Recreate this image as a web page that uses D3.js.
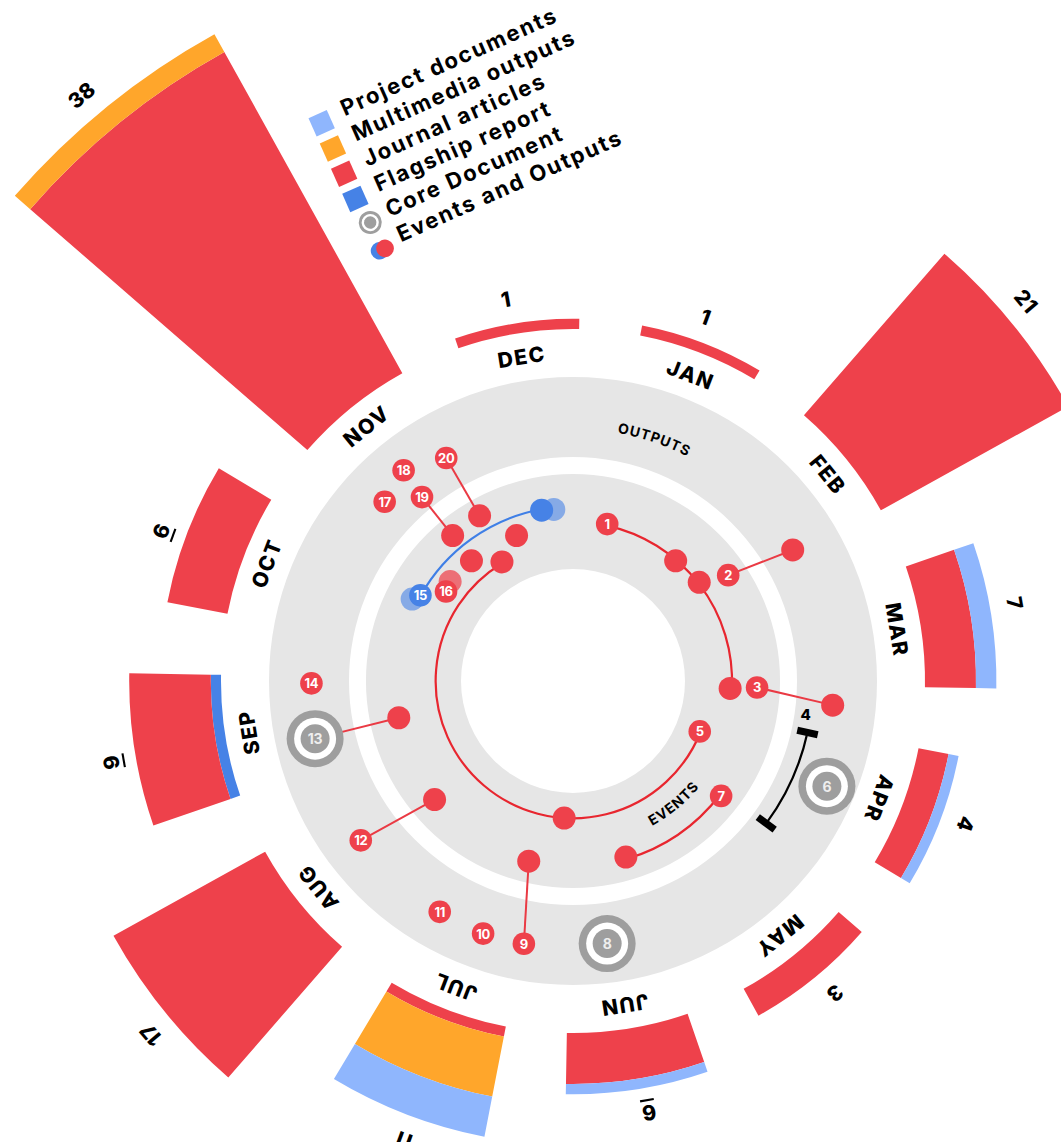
<!DOCTYPE html>
<html><head><meta charset="utf-8">
<script src="https://cdn.jsdelivr.net/npm/d3@7"></script>
<style>
html,body{margin:0;padding:0;background:#fff;}
svg{display:block;font-family:Inter,"Open Sans",sans-serif;}
</style></head><body>
<svg id="chart" width="1061" height="1142"></svg>
<script>
// ---------- DATA ----------
const months = ["JAN","FEB","MAR","APR","MAY","JUN","JUL","AUG","SEP","OCT","NOV","DEC"];
const seriesNames = ["Flagship report","Journal articles","Multimedia outputs","Project documents"]; // inner -> outer
const flagshipReport    = [0,0,0,0,0,0,0,0,1,0,0,0];
const journalArticles   = [1,21,5,3,3,5,1,17,8,6,36,1];
const multimediaOutputs = [0,0,0,0,0,0,6,0,0,0,2,0];
const projectDocuments  = [0,0,2,1,0,1,4,0,0,0,0,0];
const legendLabels = ["Project documents","Multimedia outputs","Journal articles","Flagship report","Core Document","Events and Outputs"];

// numbered events / outputs: month position (0 = start of JAN), radial track (0..10), kind
const markIds   = [1,2,3,5,6,7,8,9,10,11,12,13,14,15,16,17,18,19,20];
const markMonth = [0.21,1.657,2.867,3.523,3.55,4.06,5.553,6.153,6.453,6.8,7.57,8.38,8.783,9.777,9.973,10.253,10.507,10.487,10.813];
const markTrack = [2.53,3.95,3.76,1.27,8.48,3.93,7.96,8.09,8.13,8.05,7.99,7.93,7.79,3.28,2.26,7.71,8.25,6.56,7.53];
const markKind  = ["red","red","red","red","core","red","core","red","red","red","red","core","red","blue","red","red","red","red","red"];

// unnumbered dots
const dotMonth = [1.15,1.533,2.89,1.773,2.977,5.923,5.243,6.26,7.447,8.403,10.773,10.46,10.1,10.48,10.817,11.093,11.587,11.453,9.7];
const dotTrack = [2.40,2.51,2.36,7.49,7.75,1.32,3.74,3.83,3.66,3.44,1.39,2.36,2.40,4.0,4.05,2.29,3.16,3.21,3.57];
const dotKind  = ["red","red","red","red","red","red","red","red","red","red","red","red","redFaded","red","red","red","blueFaded","blue","blueFaded"];

// duration arcs
const arcFrom  = [0.21,3.523,9.777,4.06];
const arcTo    = [2.89,10.773,11.453,5.243];
const arcTrack = [2.45,1.32,3.26,3.85];
const arcKind  = ["red","red","blue","red"];

// links: numbered mark id -> dot index
const linkFrom = [2,3,9,12,13,19,20];
const linkTo   = [3,4,7,8,9,13,14];

// bracket item 4
const bracketLabel = "4";
const bracketFrom = 3.213, bracketTo = 4.013, bracketTrack = 6.67;
const bracketLabelMonth = 3.077, bracketLabelTrack = 6.41;

// ---------- CHART ----------
const deg = Math.PI/180;
const cx = 573, cy = 681;
const svg = d3.select("#chart");
const g = svg.append("g").attr("transform",`translate(${cx},${cy})`);

const RED="#ee414b", ORANGE="#ffa62b", LBLUE="#8fb6fd", BLUE="#4682e6", GREY="#9e9e9e", BAND="#e6e6e6";

const bandAngle = d3.scaleBand().domain(months).range([6*deg,366*deg]).paddingInner(1/3).paddingOuter(1/6);
const timeAngle = d3.scaleLinear().domain([0,12]).range([6*deg,366*deg]);
const radius = d3.scaleLinear().domain([0,38]).range([352,739.6]);
const track = d3.scaleLinear().domain([0,10]).range([112,304]);
const X = (r,a)=> r*Math.sin(a), Y=(r,a)=> -r*Math.cos(a);
const arcD = (r,a0,a1)=>{
  const large = (a1-a0)>Math.PI?1:0;
  return `M${X(r,a0)},${Y(r,a0)}A${r},${r} 0 ${large} 1 ${X(r,a1)},${Y(r,a1)}`;
};

// grey bands
const ring = d3.arc();
g.append("path").attr("fill",BAND).attr("d",ring({innerRadius:track(0),outerRadius:track(4.95),startAngle:0,endAngle:2*Math.PI}));
g.append("path").attr("fill",BAND).attr("d",ring({innerRadius:track(5.83),outerRadius:track(10),startAngle:0,endAngle:2*Math.PI}));

// stacked bars
const table = months.map((m,i)=>({month:m,
  "Flagship report":flagshipReport[i],"Journal articles":journalArticles[i],
  "Multimedia outputs":multimediaOutputs[i],"Project documents":projectDocuments[i]}));
const stacked = d3.stack().keys(seriesNames)(table);
const color = d3.scaleOrdinal().domain(seriesNames).range([BLUE,RED,ORANGE,LBLUE]);
const barArc = d3.arc();
stacked.forEach(layer=>{
  g.append("g").selectAll("path").data(layer.filter(d=>d[1]>d[0])).join("path")
   .attr("fill",color(layer.key))
   .attr("d",d=>barArc({innerRadius:radius(d[0]),outerRadius:radius(d[1]),
      startAngle:bandAngle(d.data.month),endAngle:bandAngle(d.data.month)+bandAngle.bandwidth()}));
});
const totals = table.map(d=>d3.sum(seriesNames,k=>d[k]));
const midDeg = m => (bandAngle(m)+bandAngle.bandwidth()/2)/deg;

// month labels
g.append("g").selectAll("text").data(months).join("text")
  .attr("transform",m=>`rotate(${midDeg(m)}) translate(0,-328)`)
  .attr("text-anchor","middle").attr("dominant-baseline","central")
  .attr("font-size",21).attr("font-weight",800).attr("letter-spacing",1.5).attr("fill","#000")
  .text(m=>m);

// value labels
g.append("g").selectAll("text").data(months).join("text")
  .attr("transform",(m,i)=>`rotate(${midDeg(m)-1}) translate(0,${-(radius(totals[i])+25)})`)
  .attr("text-anchor","middle").attr("dominant-baseline","central")
  .attr("font-size",21).attr("font-weight",800).attr("fill","#000")
  .style("text-decoration",(m,i)=> (totals[i]===6||totals[i]===9)?"underline":"none")
  .text((m,i)=>totals[i]);

// ring labels (curved)
const defs = svg.append("defs");
defs.append("path").attr("id","outPath").attr("d",arcD(252,(18.6-30)*deg,(18.6+30)*deg)).attr("transform",`translate(${cx},${cy})`);
defs.append("path").attr("id","evPath").attr("d",(()=>{const r=165,a0=170.6*deg,a1=110.6*deg;
  return `M${cx+X(r,a0)},${cy+Y(r,a0)}A${r},${r} 0 0 0 ${cx+X(r,a1)},${cy+Y(r,a1)}`;})());
svg.append("text").attr("font-size",14).attr("font-weight",700).attr("letter-spacing",0.9)
  .append("textPath").attr("href","#outPath").attr("startOffset","50%").attr("text-anchor","middle").text("OUTPUTS");
svg.append("text").attr("font-size",14).attr("font-weight",700).attr("letter-spacing",0.9)
  .append("textPath").attr("href","#evPath").attr("startOffset","50%").attr("text-anchor","middle").text("EVENTS");

// arcs
const arcColor = k => k==="blue"?"#3f7fe6":"#e8262f";
g.append("g").selectAll("path").data(arcFrom).join("path")
  .attr("fill","none").attr("stroke-width",2.2).attr("stroke",(d,i)=>arcColor(arcKind[i]))
  .attr("d",(d,i)=>arcD(track(arcTrack[i]),timeAngle(arcFrom[i]),timeAngle(arcTo[i])));

// links
const markPos = id => {const i=markIds.indexOf(id); return [X(track(markTrack[i]),timeAngle(markMonth[i])),Y(track(markTrack[i]),timeAngle(markMonth[i]))];};
const dotPos = j => [X(track(dotTrack[j]),timeAngle(dotMonth[j])),Y(track(dotTrack[j]),timeAngle(dotMonth[j]))];
g.append("g").selectAll("line").data(linkFrom).join("line")
  .attr("stroke","#ea3a44").attr("stroke-width",2)
  .attr("x1",(d)=>markPos(d)[0]).attr("y1",d=>markPos(d)[1])
  .attr("x2",(d,i)=>dotPos(linkTo[i])[0]).attr("y2",(d,i)=>dotPos(linkTo[i])[1]);

// bracket
const bR = track(bracketTrack);
g.append("path").attr("fill","none").attr("stroke","#000").attr("stroke-width",2.2)
  .attr("d",arcD(bR,timeAngle(bracketFrom),timeAngle(bracketTo)));
g.append("g").selectAll("rect").data([bracketFrom,bracketTo]).join("rect")
  .attr("transform",d=>`rotate(${timeAngle(d)/deg}) translate(0,${-bR})`)
  .attr("x",-3.6).attr("y",-10.5).attr("width",7.2).attr("height",21).attr("fill","#000");
g.append("text").attr("transform",`translate(${X(track(bracketLabelTrack),timeAngle(bracketLabelMonth))},${Y(track(bracketLabelTrack),timeAngle(bracketLabelMonth))})`)
  .attr("text-anchor","middle").attr("dominant-baseline","central").attr("font-size",15).attr("font-weight",800).text(bracketLabel);

// dots
const dotFill = k => ({red:RED,redFaded:"rgba(238,65,75,0.72)",blue:BLUE,blueFaded:"rgba(70,130,230,0.6)"})[k];
g.append("g").selectAll("circle").data(dotMonth).join("circle")
  .attr("cx",(d,j)=>dotPos(j)[0]).attr("cy",(d,j)=>dotPos(j)[1]).attr("r",11.5)
  .attr("fill",(d,j)=>dotFill(dotKind[j]));

// numbered marks
const marks = g.append("g").selectAll("g").data(markIds).join("g")
  .attr("transform",d=>`translate(${markPos(d)[0]},${markPos(d)[1]})`);
marks.filter((d,i)=>markKind[i]==="core").each(function(){
  const s=d3.select(this);
  s.append("circle").attr("r",28.5).attr("fill",GREY);
  s.append("circle").attr("r",21).attr("fill","#fff");
  s.append("circle").attr("r",14.5).attr("fill",GREY);
});
marks.filter((d,i)=>markKind[i]!=="core").append("circle").attr("r",11.3)
  .attr("fill",(d)=>markKind[markIds.indexOf(d)]==="blue"?BLUE:RED);
marks.append("text").attr("text-anchor","middle").attr("dominant-baseline","central")
  .attr("font-weight",700).attr("font-size",(d)=>markKind[markIds.indexOf(d)]==="core"?14:13)
  .attr("fill",d=>markKind[markIds.indexOf(d)]==="core"?"#eeeeee":"#fff")
  .attr("letter-spacing",-0.3).text(d=>d);

// legend
const legend = svg.append("g").attr("transform","translate(321.7,123.3) rotate(-24)");
const legendColors = [LBLUE,ORANGE,RED,BLUE];
legend.selectAll("rect").data(legendColors).join("rect")
  .attr("x",-10).attr("y",(d,i)=>i*27.6-10).attr("width",20).attr("height",20).attr("fill",d=>d);
const ringIcon = legend.append("g").attr("transform",`translate(4,${4*27.6})`);
ringIcon.append("circle").attr("r",11.5).attr("fill",GREY);
ringIcon.append("circle").attr("r",8.6).attr("fill","#fff");
ringIcon.append("circle").attr("r",6.2).attr("fill",GREY);
const dotIcon = legend.append("g").attr("transform",`translate(7,${5*27.6+2})`);
dotIcon.append("circle").attr("cx",-6).attr("cy",0).attr("r",8.8).attr("fill",BLUE);
dotIcon.append("circle").attr("cx",0).attr("cy",0).attr("r",8.8).attr("fill",RED);
legend.selectAll("text").data(legendLabels).join("text")
  .attr("x",24).attr("y",(d,i)=>i*27.6+3)
  .attr("font-size",22).attr("font-weight",700).attr("letter-spacing",1.9).attr("fill","#000")
  .text(d=>d);
</script>
</body></html>
